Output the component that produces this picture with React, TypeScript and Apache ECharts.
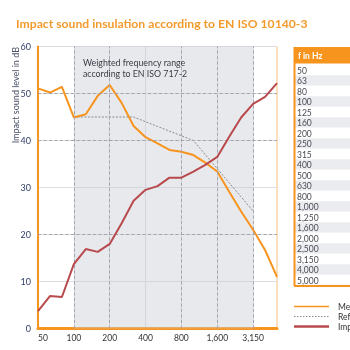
import React, { useEffect, useRef } from "react";
import * as echarts from "echarts";

const frequencies = ["50","63","80","100","125","160","200","250","315","400","500","630","800","1,000","1,250","1,600","2,000","2,500","3,150","4,000","5,000"];
const measured = [51.1, 50.2, 51.4, 44.9, 45.6, 49.5, 51.8, 48.0, 43.1, 40.7, 39.4, 38.0, 37.6, 36.9, 35.3, 33.4, 29.1, 24.9, 21.0, 16.7, 11.0];
const reference = [null, null, null, 45, 45, 45, 45, 45, 45, 44, 43, 42, 41, 40, 37, 34, 31, 28, 25, null, null];
const impact = [3.7, 6.9, 6.7, 13.7, 16.9, 16.3, 18.0, 22.4, 27.2, 29.5, 30.3, 32.1, 32.1, 33.4, 34.8, 36.5, 40.8, 44.9, 47.8, 49.3, 52.2];
const seriesNames = ["Measured value", "Reference curve", "Impact sound insulation"];
const dashedX = ["100", "200", "800", "1,600", "3,150"];
const dashedY = [20, 40, 50];
const weightedRange = ["100", "3,150"];
const titleText = "Impact sound insulation according to EN ISO 10140-3";
const yAxisName = "Impact sound level in dB";
const noteLines = ["Weighted frequency range", "according to EN ISO 717-2"];
const tableHeader = "f in Hz";

const ORANGE = "#f7941d";
const RED = "#b84a4e";
const GREYLINE = "#8a8a8a";
const FONT = "Lato";

export default function App() {
  const ref = useRef<HTMLDivElement>(null);
  useEffect(() => {
    if (!ref.current) return;
    const chart = echarts.init(ref.current, null, { renderer: "svg" });

    const rowTop = 64.75;
    const rowH = 10.5;
    const tableGraphics: any[] = [
      { type: "rect", shape: { x: 294, y: 47, width: 60, height: 16.5 }, style: { fill: ORANGE } },
      { type: "text", x: 298, y: 55.5, style: { text: tableHeader, fill: "#fff", fontSize: 8.5, fontWeight: "bold", fontFamily: FONT, verticalAlign: "middle" } },
    ];
    frequencies.forEach((f, i) => {
      tableGraphics.push({ type: "rect", shape: { x: 294, y: rowTop + i * rowH, width: 60, height: rowH }, style: { fill: i % 2 === 1 ? "#ebecef" : "#ffffff" } });
      tableGraphics.push({ type: "text", x: 297, y: rowTop + i * rowH + rowH / 2 + 0.5, style: { text: f, fill: "#4a4a55", fontSize: 8.5, fontFamily: FONT, verticalAlign: "middle" } });
    });
    tableGraphics.push({ type: "line", shape: { x1: 294.5, y1: 47, x2: 294.5, y2: 286 }, style: { stroke: ORANGE, lineWidth: 2 } });
    tableGraphics.push({ type: "line", shape: { x1: 294, y1: 286, x2: 350, y2: 286 }, style: { stroke: ORANGE, lineWidth: 2 } });

    const legendStyles = [
      { stroke: ORANGE, lineWidth: 1.5, lineDash: null },
      { stroke: GREYLINE, lineWidth: 1, lineDash: [1.5, 1.5] },
      { stroke: RED, lineWidth: 2.5, lineDash: null },
    ];
    const legendGraphics: any[] = [];
    seriesNames.forEach((n, i) => {
      const y = 306.5 + i * 10;
      legendGraphics.push({ type: "line", shape: { x1: 294, y1: y, x2: 329, y2: y }, style: legendStyles[i] });
      legendGraphics.push({ type: "text", x: 338, y, style: { text: n, fill: "#333", fontSize: 8.5, fontFamily: FONT, verticalAlign: "middle" } });
    });

    chart.setOption({
      animation: false,
      title: {
        text: titleText,
        left: 11,
        top: 12,
        textStyle: { color: "#f39a2d", fontSize: 12.2, fontWeight: "bold", fontFamily: FONT },
      },
      textStyle: { fontFamily: FONT },
      grid: { left: 38, right: 73, top: 46.5, bottom: 21.5, show: true, borderColor: "#f9c07a", borderWidth: 1, backgroundColor: "transparent" },
      xAxis: {
        type: "category",
        data: frequencies,
        boundaryGap: false,
        axisLine: { show: true, lineStyle: { color: ORANGE, width: 3 } },
        axisTick: { show: false },
        axisLabel: { interval: 2, color: "#333", fontSize: 8.5, margin: 5, alignMinLabel: "left", fontFamily: FONT },
        splitLine: { show: true, interval: 2, lineStyle: { color: "#dcdde2", width: 1 } },
      },
      yAxis: {
        type: "value",
        min: 0,
        max: 60,
        interval: 10,
        axisLine: { show: true, lineStyle: { color: ORANGE, width: 2 } },
        axisTick: { show: false },
        axisLabel: { color: "#34406a", fontSize: 9, margin: 7, fontFamily: FONT },
        splitLine: { show: true, lineStyle: { color: "#dcdde2", width: 1 } },
      },
      graphic: [
        {
          type: "text",
          x: 15,
          y: 47,
          rotation: Math.PI / 2,
          style: { text: yAxisName, fill: "#4a4f66", fontSize: 9, fontFamily: FONT, align: "right", verticalAlign: "middle" },
        },
        {
          type: "text",
          x: 83,
          y: 57.5,
          style: { text: noteLines.join("\n"), fill: "#3a3a44", fontSize: 8.8, lineHeight: 10.5, fontFamily: FONT, verticalAlign: "top" },
          z: 10,
        },
        ...tableGraphics,
        ...legendGraphics,
      ],
      series: [
        {
          name: seriesNames[0],
          type: "line",
          data: measured,
          symbol: "none",
          lineStyle: { color: ORANGE, width: 2 },
          itemStyle: { color: ORANGE },
          z: 4,
          markArea: {
            silent: true,
            itemStyle: { color: "rgba(200,203,212,0.42)" },
            data: [[{ xAxis: weightedRange[0] }, { xAxis: weightedRange[1] }]],
          },
          markLine: {
            silent: true,
            symbol: "none",
            label: { show: false },
            lineStyle: { color: "#a3a5ac", type: [3, 2.5], width: 1 },
            data: [
              ...dashedX.map((x) => ({ xAxis: x })),
              ...dashedY.map((y) => ({ yAxis: y })),
            ],
          },
        },
        {
          name: seriesNames[1],
          type: "line",
          data: reference,
          symbol: "none",
          connectNulls: false,
          lineStyle: { color: GREYLINE, width: 1, type: [2, 1.5] },
          itemStyle: { color: GREYLINE },
          z: 3,
        },
        {
          name: seriesNames[2],
          type: "line",
          data: impact,
          symbol: "none",
          lineStyle: { color: RED, width: 2 },
          itemStyle: { color: RED },
          z: 5,
        },
      ],
    });
    return () => chart.dispose();
  }, []);
  return <div ref={ref} style={{ position: "fixed", left: 0, top: 0, width: 350, height: 350 }} />;
}
